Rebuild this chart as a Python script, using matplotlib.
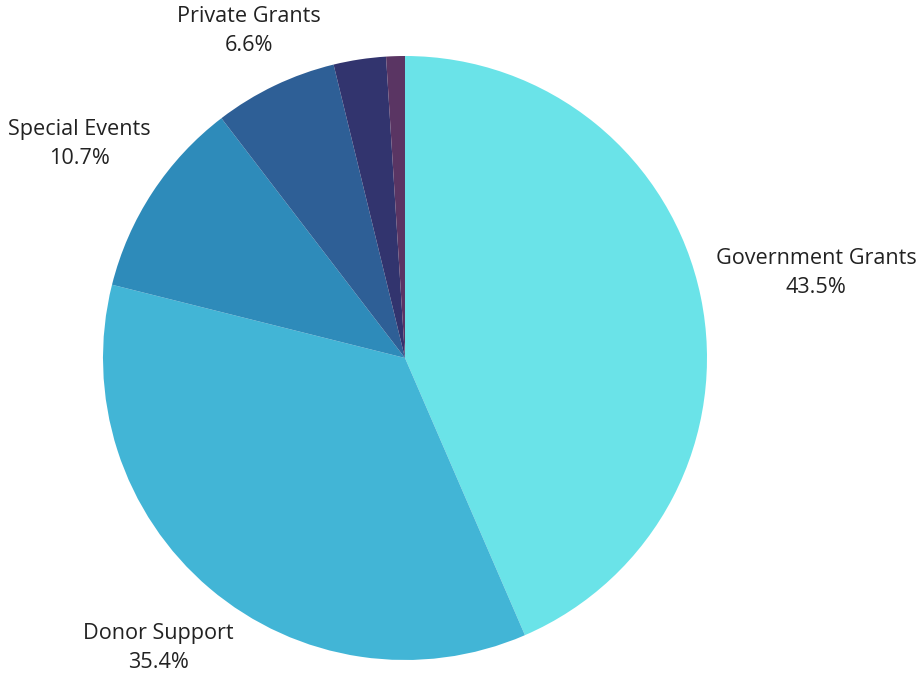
import matplotlib
matplotlib.use("Agg")
import matplotlib.pyplot as plt
import numpy as np

categories = ["Government Grants", "Donor Support", "Special Events", "Private Grants", "Other", "Miscellaneous"]
values = [43.5, 35.4, 10.7, 6.6, 2.8, 1.0]
show_label = [True, True, True, True, False, False]
colors = ["#6AE3E8", "#42B5D6", "#2E8BBA", "#2E5F96", "#32346E", "#5A3563"]
label_dist = [1.39, 1.26, 1.29, 1.20, 1.2, 1.2]

plt.rcParams['font.family'] = ['Open Sans', 'DejaVu Sans']

fig = plt.figure(figsize=(9.18, 6.8), dpi=100)
ax = fig.add_axes([0, 0, 1, 1])
R = 302.0

wedges, _ = ax.pie(values, colors=colors, startangle=90, counterclock=False,
                   radius=1.0, center=(0, 0), frame=True,
                   wedgeprops=dict(linewidth=0.5, edgecolor='none'))
ax.set_xlim(-405 / R, (918 - 405) / R)
ax.set_ylim((358 - 680) / R, 358 / R)
ax.set_aspect('equal')
ax.axis('off')

for w, cat, v, show, d in zip(wedges, categories, values, show_label, label_dist):
    if not show:
        continue
    ang = np.deg2rad((w.theta1 + w.theta2) / 2)
    x, y = d * np.cos(ang), d * np.sin(ang)
    ax.text(x, y, f"{cat}\n{v:.1f}%", ha='center', va='center', fontsize=15.6,
            color='#222222', linespacing=1.5)

fig.savefig("out.png", dpi=100, facecolor='white')
